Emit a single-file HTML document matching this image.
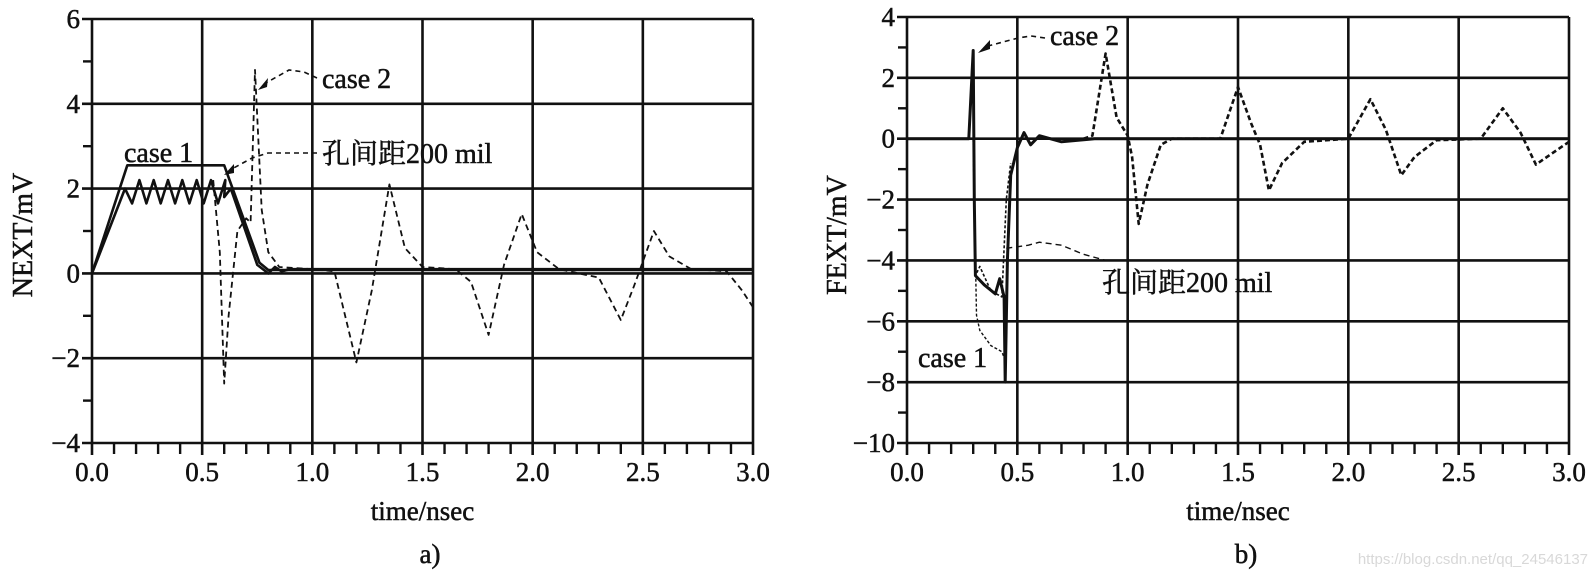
<!DOCTYPE html>
<html><head><meta charset="utf-8"><style>
html,body{margin:0;padding:0;background:#fff;}
svg{display:block;}
text{font-family:"Liberation Serif","Noto Serif CJK SC","Noto Sans CJK SC",serif;fill:#111;stroke:#111;stroke-width:0.5;}
</style></head><body>
<svg id="s" width="1590" height="574" viewBox="0 0 1590 574" xmlns="http://www.w3.org/2000/svg"></svg>
<script>
const S=document.getElementById('s');
let out='';
function ln(x1,y1,x2,y2,w,extra){out+=`<line x1="${x1}" y1="${y1}" x2="${x2}" y2="${y2}" stroke="#111" stroke-width="${w}" ${extra||''}/>`;}
function tx(x,y,s,size,anchor,extra){out+=`<text x="${x}" y="${y}" font-size="${size}" text-anchor="${anchor||'start'}" ${extra||''}>${s}</text>`;}
function plot(P){
  const {x0,x1,ytop,ybot,vmin,vmax}=P;
  const X=t=>x0+(x1-x0)*t/3, Y=v=>ybot-(ybot-ytop)*(v-vmin)/(vmax-vmin);
  P.X=X;P.Y=Y;
  for(let i=0;i<=6;i++){ln(X(i*0.5),ytop,X(i*0.5),ybot+12,2.6);}
  for(let v=vmin;v<=vmax;v+=2){ln(x0-10,Y(v),x1,Y(v),2.6);}
  for(let i=1;i<30;i++){if(i%5)ln(X(i*0.1),ybot,X(i*0.1),ybot+11,2.4);}
  for(let v=vmin+1;v<vmax;v+=2){ln(x0-9,Y(v),x0,Y(v),2.4);}
  for(let i=0;i<=6;i++)tx(X(i*0.5),ybot+38,(i*0.5).toFixed(1),27,'middle');
  for(let v=vmin;v<=vmax;v+=2)tx(x0-12,Y(v)+9,(v<0?'\u2212'+(-v):v),27,'end');
  tx((x0+x1)/2,ybot+77,'time/nsec',27,'middle');
}
function path(P,pts,w,dash){
  let d='M'+pts.map(p=>P.X(p[0]).toFixed(1)+','+P.Y(p[1]).toFixed(1)).join('L');
  out+=`<path d="${d}" fill="none" stroke="#111" stroke-width="${w}" ${dash?`stroke-dasharray="${dash}"`:''} stroke-linejoin="round"/>`;
}
const A={x0:92,x1:753,ytop:19,ybot:443,vmin:-4,vmax:6};
const B={x0:907,x1:1569,ytop:17,ybot:443,vmin:-10,vmax:4};
plot(A);plot(B);
// Left plot
path(A,[[0,0],[0.16,2.55],[0.6,2.55],[0.76,0.25],[0.8,0.08],[3,0.08]],2.6);
let z=[[0,0],[0.15,2]];for(let t=0.15;t<0.58;t+=0.065){z.push([t+0.032,1.65]);z.push([t+0.065,2.2]);}
z.push([0.6,1.8],[0.63,2.0],[0.75,0.2],[0.8,0.0],[0.83,0.15],[0.86,0.05],[0.9,0.1],[3,0.1]);
path(A,z,2.6);
path(A,[[0.55,2.2],[0.58,0.5],[0.6,-2.6],[0.62,-1],[0.66,1.0],[0.7,1.3],[0.72,1.2],[0.74,4.8],[0.77,1.5],[0.8,0.5],[0.85,0.15],[1.0,0.1],[1.1,0.05],[1.2,-2.1],[1.27,-0.4],[1.35,2.1],[1.42,0.6],[1.5,0.15],[1.65,0.1],[1.72,-0.2],[1.8,-1.45],[1.87,0.2],[1.95,1.4],[2.02,0.5],[2.12,0.1],[2.3,-0.1],[2.4,-1.1],[2.46,-0.3],[2.55,1.0],[2.62,0.4],[2.72,0.1],[2.88,0.05],[2.95,-0.4],[3.0,-0.8]],1.8,'6,4');
tx(124,162,'case 1',28);
tx(322,88,'case 2',28);
tx(322,163,'孔间距200 mil',28);
out+=`<path d="M317,78 L304,72 L289,70 L264,84" fill="none" stroke="#111" stroke-width="1.6" stroke-dasharray="5,4"/><path d="M258,90 L268,78 L267,87 Z" fill="#111"/>`;
out+=`<path d="M317,153 L268,153 L252,158 L230,170" fill="none" stroke="#111" stroke-width="1.6" stroke-dasharray="5,4"/><path d="M224,175 L234,164 L234,173 Z" fill="#111"/>`;
// Right plot
path(B,[[0,0],[0.28,0],[0.3,2.9],[0.305,-2],[0.31,-4.5],[0.35,-4.8],[0.4,-5.1],[0.42,-4.6],[0.44,-5.2],[0.445,-8],[0.455,-4],[0.47,-1.2],[0.5,-0.3],[0.53,0.2],[0.56,-0.2],[0.6,0.1],[0.7,-0.1],[0.85,0],[3,0]],3);
path(B,[[0.3,0],[0.31,-4.5],[0.33,-4.2],[0.38,-5],[0.43,-5.2],[0.45,-2],[0.47,-0.8]],1.6,'3,2');
path(B,[[0.3,0],[0.315,-5.8],[0.33,-6.3],[0.38,-6.8],[0.43,-7.0],[0.44,-7.2]],1.4,'3,2');
path(B,[[0.45,-3.6],[0.55,-3.5],[0.6,-3.4],[0.7,-3.5],[0.8,-3.8],[0.9,-4.0]],1.4,'6,4');
path(B,[[0.8,0],[0.84,0.1],[0.9,2.8],[0.95,0.7],[1.0,0.1],[1.02,-0.6],[1.05,-2.8],[1.09,-1.5],[1.15,-0.2],[1.2,0],[1.42,0],[1.5,1.7],[1.56,0.5],[1.6,-0.2],[1.64,-1.7],[1.7,-0.8],[1.8,-0.1],[2.0,0],[2.1,1.3],[2.17,0.3],[2.24,-1.2],[2.3,-0.6],[2.4,-0.05],[2.6,0],[2.7,1.0],[2.78,0.2],[2.85,-0.85],[2.92,-0.5],[3,-0.1]],2.6,'5,3');
tx(1050,45,'case 2',28);
tx(1102,292,'孔间距200 mil',28);
tx(918,367,'case 1',28);
out+=`<path d="M1045,38 L1031,36 L1018,38 L988,46" fill="none" stroke="#111" stroke-width="1.6" stroke-dasharray="5,4"/><path d="M978,53 L990,40 L990,49 Z" fill="#111"/>`;
// axis titles
tx(32,235,'NEXT/mV',28,'middle','transform="rotate(-90 32 235)"');
tx(846,235,'FEXT/mV',28,'middle','transform="rotate(-90 846 235)"');
tx(430,563,'a)',27,'middle');
tx(1246,563,'b)',27,'middle');
out+=`<text x="1588" y="564" font-size="15" text-anchor="end" style="font-family:'Liberation Sans',sans-serif;fill:#d8d8d8;stroke:none">https://blog.csdn.net/qq_24546137</text>`;
S.innerHTML=out;
</script>
</body></html>
